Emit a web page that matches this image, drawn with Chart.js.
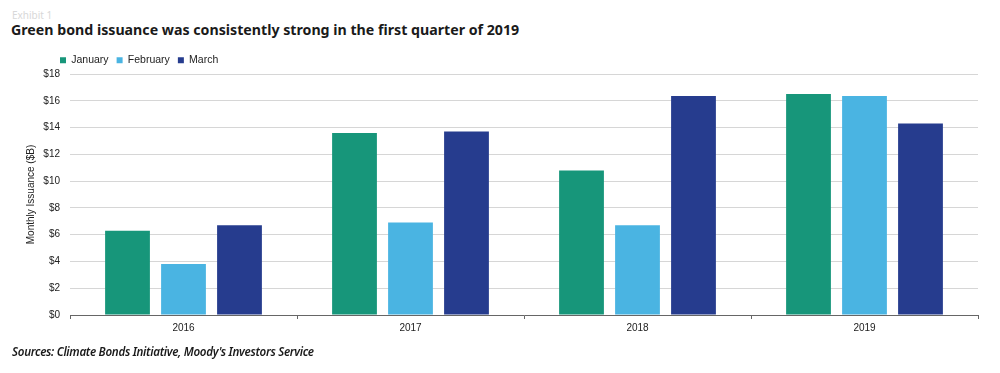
<!DOCTYPE html>
<html>
<head>
<meta charset="utf-8">
<script src="https://cdn.jsdelivr.net/npm/chart.js@4"></script>
<style>
  html, body { margin: 0; padding: 0; background: #fff; }
  body { width: 1000px; height: 373px; position: relative; overflow: hidden; font-family: "Noto Sans", "Open Sans", sans-serif; }
  #exhibit { position: absolute; left: 12px; top: 8px; font-size: 10px; color: #d8d8d8; }
  #title { position: absolute; left: 11px; top: 20px; font-size: 14.2px; font-weight: 700; color: #1a1a1a; white-space: nowrap; }
  #source { position: absolute; left: 12px; top: 344px; font-size: 11.6px; font-style: italic; font-weight: 600; color: #1a1a1a; white-space: nowrap; letter-spacing: -0.3px; }
  #wrap { position: absolute; left: 0; top: 0; width: 1000px; height: 373px; }
</style>
</head>
<body>
<div id="exhibit">Exhibit 1</div>
<div id="title">Green bond issuance was consistently strong in the first quarter of 2019</div>
<div id="wrap"><canvas id="c" width="1000" height="373"></canvas></div>
<div id="source">Sources: Climate Bonds Initiative, Moody's Investors Service</div>
<script>
const categories = ["2016", "2017", "2018", "2019"];
const january = [6.3, 13.6, 10.8, 16.5];
const february = [3.8, 6.9, 6.7, 16.35];
const march = [6.7, 13.7, 16.35, 14.3];
const yTicks = [0, 2, 4, 6, 8, 10, 12, 14, 16, 18];

const legendTweak = {
  id: 'legendTweak',
  beforeInit(chart) {
    const lg = chart.legend;
    const orig = lg.fit;
    lg.fit = function () { orig.call(this); this.height = 27; };
  },
  afterLayout(chart) {
    chart.legend.left = 52;
  }
};

new Chart(document.getElementById('c'), {
  type: 'bar',
  data: {
    labels: categories,
    datasets: [
      { label: 'January', data: january, backgroundColor: '#17967A' },
      { label: 'February', data: february, backgroundColor: '#4AB4E2' },
      { label: 'March', data: march, backgroundColor: '#263C8E' }
    ]
  },
  options: {
    responsive: false,
    animation: false,
    devicePixelRatio: 1,
    layout: { padding: { top: 47, left: 12, right: 22, bottom: 36 } },
    datasets: { bar: { categoryPercentage: 0.74, barPercentage: 0.8 } },
    plugins: {
      tooltip: { enabled: false },
      legend: {
        position: 'top',
        align: 'start',
        labels: {
          boxWidth: 6, boxHeight: 6, padding: 8,
          color: '#222',
          font: { family: 'Liberation Sans', size: 10.5 }
        }
      }
    },
    scales: {
      x: {
        grid: { drawOnChartArea: false, drawTicks: true, tickLength: 4, color: '#666', offset: true },
        border: { display: true, color: '#666', width: 1 },
        ticks: { color: '#222', padding: 3, font: { family: 'Liberation Sans', size: 10 } }
      },
      y: {
        min: 0, max: 18,
        afterFit(scale) { scale.width = 58; },
        afterBuildTicks(scale) { scale.ticks = yTicks.map(v => ({ value: v })); },
        grid: { color: '#d6d6d6', drawTicks: false },
        border: { display: false },
        ticks: {
          color: '#222', padding: 10,
          font: { family: 'Liberation Sans', size: 10 },
          callback: v => '$' + v
        },
        title: {
          display: true, text: 'Monthly Issuance ($B)', color: '#222',
          font: { family: 'Liberation Sans', size: 10 },
          padding: { top: 13, bottom: 0 }
        }
      }
    }
  },
  plugins: [legendTweak]
});
</script>
</body>
</html>
